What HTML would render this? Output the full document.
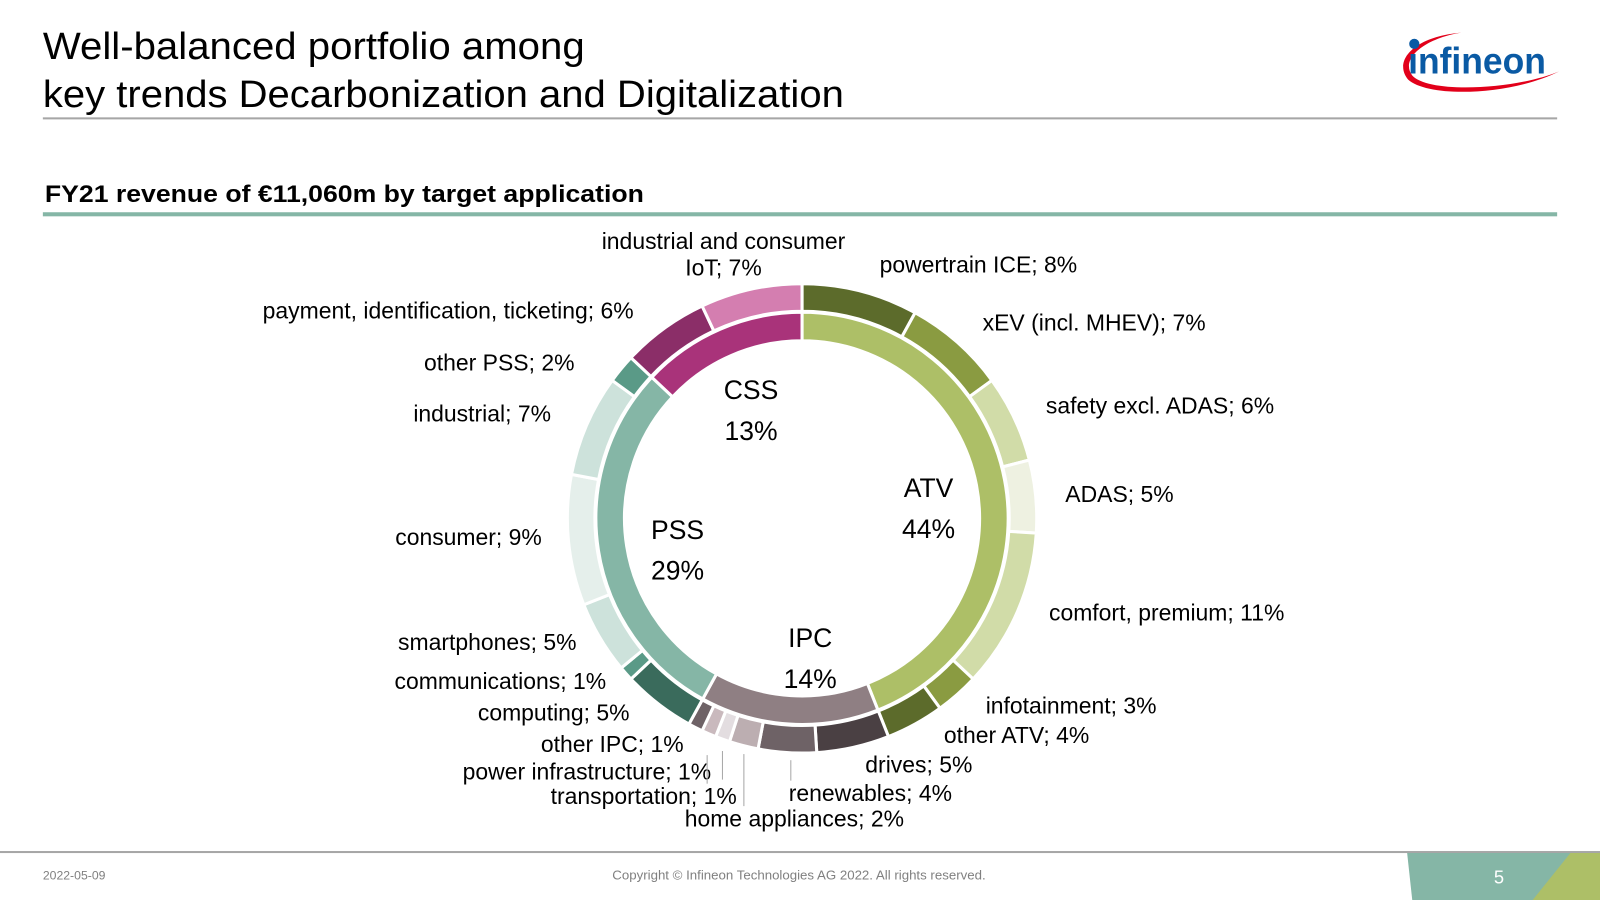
<!DOCTYPE html>
<html><head><meta charset="utf-8"><style>
html,body{margin:0;padding:0;background:#fff;overflow:hidden}
#wrap{position:absolute;left:0;top:0;width:1568px;height:882px;transform:scale(1.020408);transform-origin:0 0;font-family:"Liberation Sans",Arial,sans-serif}
</style></head><body>
<div id="wrap">
<svg width="1568" height="882" viewBox="0 0 1568 882">
<text x="42" y="58" font-size="37" fill="#000" textLength="531" lengthAdjust="spacingAndGlyphs">Well-balanced portfolio among</text>
<text x="42" y="105" font-size="37" fill="#000" textLength="785" lengthAdjust="spacingAndGlyphs">key trends Decarbonization and Digitalization</text>
<rect x="42" y="115" width="1484" height="2" fill="#a6a6a6"/>
<g>
<path d="M1432,32 C1385,36 1365,60 1380,78 C1400,96 1480,94 1528,70 C1485,88 1400,92 1384,74 C1372,58 1395,38 1432,32 Z" fill="#e2001a"/>
<circle cx="1386" cy="43" r="5" fill="#0a5aa4"/>
<text x="1380" y="72" font-size="36" font-weight="bold" fill="#0a5aa4" textLength="135" lengthAdjust="spacingAndGlyphs">ınfineon</text>
</g>
<text x="44" y="198" font-size="24" font-weight="bold" fill="#000" textLength="587" lengthAdjust="spacingAndGlyphs">FY21 revenue of €11,060m by target application</text>
<rect x="42" y="208" width="1484" height="4" fill="#85b6a6"/>
<g id="donut"></g>
<g id="labels" font-size="22.5" fill="#000">
<text x="709" y="244" text-anchor="middle">industrial and consumer</text>
<text x="709" y="270" text-anchor="middle">IoT; 7%</text>
<text x="862" y="267">powertrain ICE; 8%</text>
<text x="963" y="324">xEV (incl. MHEV); 7%</text>
<text x="1025" y="405">safety excl. ADAS; 6%</text>
<text x="1044" y="492">ADAS; 5%</text>
<text x="1028" y="608">comfort, premium; 11%</text>
<text x="966" y="699">infotainment; 3%</text>
<text x="925" y="728">other ATV; 4%</text>
<text x="848" y="757">drives; 5%</text>
<text x="773" y="785">renewables; 4%</text>
<text x="671" y="810">home appliances; 2%</text>
<text x="722" y="788" text-anchor="end">transportation; 1%</text>
<text x="697" y="764" text-anchor="end">power infrastructure; 1%</text>
<text x="670" y="737" text-anchor="end">other IPC; 1%</text>
<text x="617" y="706" text-anchor="end">computing; 5%</text>
<text x="594" y="675" text-anchor="end">communications; 1%</text>
<text x="565" y="637" text-anchor="end">smartphones; 5%</text>
<text x="531" y="534" text-anchor="end">consumer; 9%</text>
<text x="540" y="413" text-anchor="end">industrial; 7%</text>
<text x="563" y="363" text-anchor="end">other PSS; 2%</text>
<text x="621" y="312" text-anchor="end">payment, identification, ticketing; 6%</text>
</g>
<g stroke="#a6a6a6" stroke-width="1">
<line x1="693" y1="740" x2="693" y2="768"/>
<line x1="708" y1="736" x2="708" y2="764"/>
<line x1="729" y1="739" x2="729" y2="790"/>
<line x1="775" y1="745" x2="775" y2="765"/>
</g>
<g font-size="26" fill="#000" text-anchor="middle">
<text x="736" y="391">CSS</text><text x="736" y="431">13%</text>
<text x="910" y="487">ATV</text><text x="910" y="527">44%</text>
<text x="664" y="528">PSS</text><text x="664" y="568">29%</text>
<text x="794" y="634">IPC</text><text x="794" y="674">14%</text>
</g>
<rect x="0" y="834" width="1568" height="2" fill="#a6a6a6"/>
<text x="42" y="862" font-size="12" fill="#808080">2022-05-09</text>
<text x="783" y="862" font-size="13" fill="#808080" text-anchor="middle">Copyright © Infineon Technologies AG 2022. All rights reserved.</text>
<polygon points="1379,836 1568,836 1568,882 1384,882" fill="#85b6a6"/>
<polygon points="1539,836 1568,836 1568,882 1502,882" fill="#adbf67"/>
<text x="1469" y="866" font-size="18" fill="#fff" text-anchor="middle">5</text>
</svg>
</div>
<script>
const groupNames = ["ATV","IPC","PSS","CSS"];
const groupValues = [44,14,29,13];
const groupColors = ["#adbf67","#8f7f83","#85b6a6","#a9337a"];
const segNames = ["powertrain ICE","xEV","safety excl. ADAS","ADAS","comfort, premium","infotainment","other ATV","drives","renewables","home appliances","transportation","power infrastructure","other IPC","computing","communications","smartphones","consumer","industrial","other PSS","payment","IoT"];
const segValues = [8,7,6,5,11,3,4,5,4,2,1,1,1,5,1,5,9,7,2,6,7];
const segColors = ["#5c6b2b","#8a9b41","#d1dca8","#eef1e1","#d1dca8","#8a9b41","#5c6b2b","#4a4043","#6e6266","#bcaeb1","#e3dde0","#c9b9bd","#6e6266","#3a6b5c","#5a9a87","#cde2db","#e5efeb","#cde2db","#5a9a87","#8b2e68","#d47eb0"];
const cx=786, cy=508;
const NS="http://www.w3.org/2000/svg";
const g=document.getElementById('donut');
function ang(v,total){return v/total*2*Math.PI;}
function pt(r,a){return [cx+r*Math.sin(a), cy-r*Math.cos(a)];}
function arc(r0,r1,a0,a1){
  const large=(a1-a0)>Math.PI?1:0;
  const p0=pt(r1,a0),p1=pt(r1,a1),p2=pt(r0,a1),p3=pt(r0,a0);
  return `M${p0[0]},${p0[1]} A${r1},${r1} 0 ${large} 1 ${p1[0]},${p1[1]} L${p2[0]},${p2[1]} A${r0},${r0} 0 ${large} 0 ${p3[0]},${p3[1]} Z`;
}
function ring(values,colors,names,r0,r1,kind){
  const total=values.reduce((a,b)=>a+b,0);
  let acc=0;
  values.forEach((v,i)=>{
    const a0=ang(acc,total), a1=ang(acc+v,total); acc+=v;
    const p=document.createElementNS(NS,'path');
    p.setAttribute('d',arc(r0,r1,a0,a1));
    p.setAttribute('fill',colors[i]);
    p.setAttribute('stroke','#fff');
    p.setAttribute('stroke-width','3');
    
    
    g.appendChild(p);
  });
}
ring(groupValues,groupColors,groupNames,174,202,'inner-slice');
ring(segValues,segColors,segNames,203,230,'outer-slice');
</script>
</body></html>
